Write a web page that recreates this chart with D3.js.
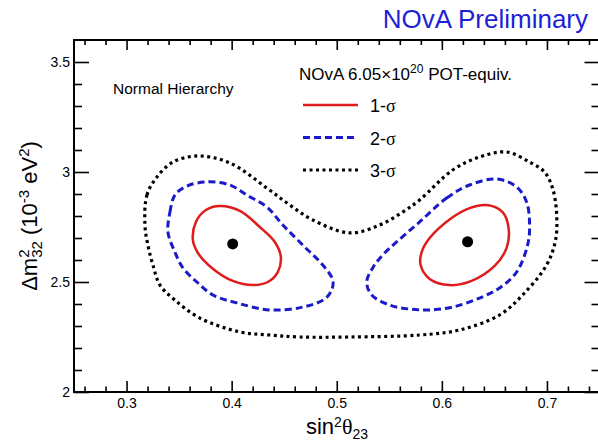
<!DOCTYPE html>
<meta charset="utf-8">
<head>
  <title>NOvA contours</title>
</head>
<style>
  body { margin: 0; background: white; }
  svg { display: block; }
  .lbl { font-family: "Liberation Sans", Arial, Helvetica, sans-serif; fill: black; }
  .sym { font-family: "Liberation Serif", "DejaVu Serif", serif; }
</style>
<body>
<svg id="chart" width="598" height="446"></svg>
<script src="https://cdnjs.cloudflare.com/ajax/libs/d3/7.8.5/d3.min.js"></script>
<script>
// axis ticks
var xTicks = [0.3, 0.4, 0.5, 0.6, 0.7];
var xTickLabels = ["0.3", "0.4", "0.5", "0.6", "0.7"];
var yTicks = [2, 2.5, 3, 3.5];
var yTickLabels = ["2", "2.5", "3", "3.5"];

// best fit points [sin2theta23, dm2_32]
var bestFit = [[0.401, 2.673], [0.6245, 2.683]];

// contours, [sin2theta23, dm2_32]
var sigma1Left = [[0.3888, 2.845], [0.4078, 2.823], [0.4268, 2.75], [0.4411, 2.682], [0.4468, 2.614],
  [0.4439, 2.545], [0.4344, 2.5], [0.4202, 2.486], [0.4011, 2.505], [0.3812, 2.564], [0.3679, 2.632],
  [0.3631, 2.691], [0.366, 2.773], [0.3755, 2.827]];
var sigma1Right = [[0.6426, 2.85], [0.6578, 2.818], [0.6635, 2.745], [0.6616, 2.655], [0.6502, 2.573],
  [0.6283, 2.505], [0.6074, 2.486], [0.5884, 2.514], [0.5798, 2.577], [0.5808, 2.636], [0.5884, 2.7],
  [0.6093, 2.791], [0.6264, 2.836]];
var sigma2Left = [[0.3394, 2.727], [0.3413, 2.818], [0.346, 2.895], [0.3574, 2.936], [0.3764, 2.955],
  [0.3983, 2.941], [0.4144, 2.895], [0.4335, 2.841], [0.4487, 2.759], [0.4677, 2.668], [0.4867, 2.577],
  [0.4962, 2.509], [0.4952, 2.464], [0.4886, 2.423], [0.4677, 2.386], [0.4363, 2.373], [0.4049, 2.405],
  [0.3821, 2.441], [0.3669, 2.5], [0.3536, 2.564], [0.346, 2.636]];
var sigma2Right = [[0.5789, 2.773], [0.6046, 2.882], [0.6264, 2.941], [0.6521, 2.968], [0.6711, 2.932],
  [0.6806, 2.864], [0.6835, 2.759], [0.6816, 2.668], [0.6711, 2.545], [0.6549, 2.473], [0.6359, 2.427],
  [0.6103, 2.386], [0.5884, 2.373], [0.5694, 2.377], [0.5504, 2.395], [0.5333, 2.441], [0.5285, 2.5],
  [0.5342, 2.564], [0.5437, 2.623], [0.557, 2.682]];
var sigma3 = [[0.3175, 2.759], [0.3194, 2.895], [0.3289, 2.977], [0.3441, 3.045], [0.3679, 3.073],
  [0.3983, 3.041], [0.4335, 2.927], [0.4553, 2.85], [0.4772, 2.782], [0.5124, 2.723], [0.5409, 2.759],
  [0.5627, 2.818], [0.5789, 2.873], [0.6103, 3.009], [0.6359, 3.068], [0.6616, 3.091], [0.6835, 3.045],
  [0.6977, 3.0], [0.7053, 2.927], [0.7091, 2.818], [0.7082, 2.691], [0.6996, 2.577], [0.6768, 2.441],
  [0.6549, 2.35], [0.6169, 2.282], [0.5789, 2.259], [0.5124, 2.25], [0.4648, 2.25], [0.4363, 2.259],
  [0.4078, 2.273], [0.3698, 2.336], [0.346, 2.418], [0.3318, 2.486], [0.3251, 2.577], [0.3203, 2.668]];

var legendItems = ["1-", "2-", "3-"];

var svg = d3.select("#chart");
var x = d3.scaleLinear().domain([0.25, 0.75]).range([74, 599.5]);
var y = d3.scaleLinear().domain([2, 3.6]).range([392, 40]);

var xMinor = d3.range(0.26, 0.75, 0.02).filter(function(v) { return Math.abs(v * 10 - Math.round(v * 10)) > 1e-6; });
var yMinor = d3.range(2.1, 3.6, 0.1).filter(function(v) { return Math.abs(v * 2 - Math.round(v * 2)) > 1e-6; });

svg.append("rect").attr("width", 598).attr("height", 446).attr("fill", "white");

// contours
var line = d3.line()
  .x(function(d) { return x(d[0]); })
  .y(function(d) { return y(d[1]); })
  .curve(d3.curveCatmullRomClosed.alpha(0.5));

var styles = [
  { data: [sigma1Left, sigma1Right], color: "#e01b1b", dash: null, width: 2.5 },
  { data: [sigma2Left, sigma2Right], color: "#1a1ac8", dash: "7,4", width: 3 },
  { data: [sigma3], color: "#000000", dash: "3,3.5", width: 3.2 }
];
styles.forEach(function(s) {
  svg.append("g").selectAll("path")
    .data(s.data)
    .enter().append("path")
    .attr("d", line)
    .attr("fill", "none")
    .attr("stroke", s.color)
    .attr("stroke-width", s.width)
    .attr("stroke-dasharray", s.dash);
});

svg.append("g").selectAll("circle")
  .data(bestFit)
  .enter().append("circle")
  .attr("cx", function(d) { return x(d[0]); })
  .attr("cy", function(d) { return y(d[1]); })
  .attr("r", 5.5)
  .attr("fill", "black");

// axes
function clean(g) {
  g.select(".domain").remove();
  g.selectAll("line").attr("stroke", "black").attr("stroke-width", 1.6);
  g.selectAll("text").attr("class", "lbl").attr("font-family", null).style("font-size", "14px");
}
svg.append("g").attr("transform", "translate(0,392)")
  .call(d3.axisBottom(x).tickValues(xTicks).tickFormat(function(d, i) { return xTickLabels[i]; })
    .tickSizeInner(-11).tickSizeOuter(0).tickPadding(6)).call(clean);
svg.append("g").attr("transform", "translate(0,392)")
  .call(d3.axisBottom(x).tickValues(xMinor).tickFormat("").tickSizeInner(-5.5).tickSizeOuter(0)).call(clean);
svg.append("g").attr("transform", "translate(0,40)")
  .call(d3.axisTop(x).tickValues(xTicks).tickFormat("").tickSizeInner(-10).tickSizeOuter(0)).call(clean);
svg.append("g").attr("transform", "translate(0,40)")
  .call(d3.axisTop(x).tickValues(xMinor).tickFormat("").tickSizeInner(-5).tickSizeOuter(0)).call(clean);
svg.append("g").attr("transform", "translate(74,0)")
  .call(d3.axisLeft(y).tickValues(yTicks).tickFormat(function(d, i) { return yTickLabels[i]; })
    .tickSizeInner(-15).tickSizeOuter(0).tickPadding(4)).call(clean);
svg.append("g").attr("transform", "translate(74,0)")
  .call(d3.axisLeft(y).tickValues(yMinor).tickFormat("").tickSizeInner(-8).tickSizeOuter(0)).call(clean);
svg.append("g").attr("transform", "translate(599.5,0)")
  .call(d3.axisRight(y).tickValues(yTicks).tickFormat("").tickSizeInner(-15).tickSizeOuter(0)).call(clean);
svg.append("g").attr("transform", "translate(599.5,0)")
  .call(d3.axisRight(y).tickValues(yMinor).tickFormat("").tickSizeInner(-8).tickSizeOuter(0)).call(clean);

svg.append("rect")
  .attr("x", x(0.25)).attr("y", y(3.6))
  .attr("width", x(0.75) - x(0.25)).attr("height", y(2) - y(3.6))
  .attr("fill", "none").attr("stroke", "black").attr("stroke-width", 2);

// title
svg.append("text").attr("class", "lbl")
  .attr("x", 588).attr("y", 28).attr("text-anchor", "end")
  .style("font-size", "26px").style("fill", "#1f1fd8")
  .text("NOvA Preliminary");

svg.append("text").attr("class", "lbl")
  .attr("x", 113).attr("y", 94)
  .style("font-size", "15.5px")
  .text("Normal Hierarchy");

// legend
var head = svg.append("text").attr("class", "lbl")
  .attr("x", 299).attr("y", 80).style("font-size", "17px");
head.append("tspan").text("NOvA 6.05\u00d710");
head.append("tspan").attr("dy", -7).style("font-size", "12px").text("20");
head.append("tspan").attr("dy", 7).text(" POT-equiv.");

var leg = svg.append("g").selectAll("g")
  .data(styles)
  .enter().append("g")
  .attr("transform", function(d, i) { return "translate(0," + (105 + i * 32.5) + ")"; });
leg.append("line")
  .attr("x1", 303).attr("x2", 358)
  .attr("stroke", function(d) { return d.color; })
  .attr("stroke-width", function(d) { return d.width; })
  .attr("stroke-dasharray", function(d) { return d.dash; });
var lt = leg.append("text").attr("class", "lbl")
  .attr("x", 370).attr("y", 7).style("font-size", "18px");
lt.append("tspan").text(function(d, i) { return legendItems[i]; });
lt.append("tspan").attr("class", "sym").text("\u03c3");

// x title
var xt = svg.append("text").attr("class", "lbl")
  .attr("x", 337).attr("y", 434).attr("text-anchor", "middle").style("font-size", "22px");
xt.append("tspan").text("sin");
xt.append("tspan").attr("dy", -7).style("font-size", "14px").text("2");
xt.append("tspan").attr("dy", 7).attr("class", "sym").text("\u03b8");
xt.append("tspan").attr("dy", 5).style("font-size", "14px").text("23");

// y title
var yt = svg.append("text").attr("class", "lbl")
  .attr("transform", "translate(37,216) rotate(-90)")
  .attr("text-anchor", "middle").style("font-size", "22px");
yt.append("tspan").text("\u0394m");
var sup = yt.append("tspan").attr("dy", -8).style("font-size", "15px").text("2");
var w2 = sup.node().getComputedTextLength();
yt.append("tspan").attr("dx", -w2).attr("dy", 13).style("font-size", "15px").text("32");
yt.append("tspan").attr("dy", -5).text(" (10");
yt.append("tspan").attr("dy", -8).style("font-size", "15px").text("-3");
yt.append("tspan").attr("dy", 8).text(" eV");
yt.append("tspan").attr("dy", -8).style("font-size", "15px").text("2");
yt.append("tspan").attr("dy", 8).text(")");
</script>
</body>
